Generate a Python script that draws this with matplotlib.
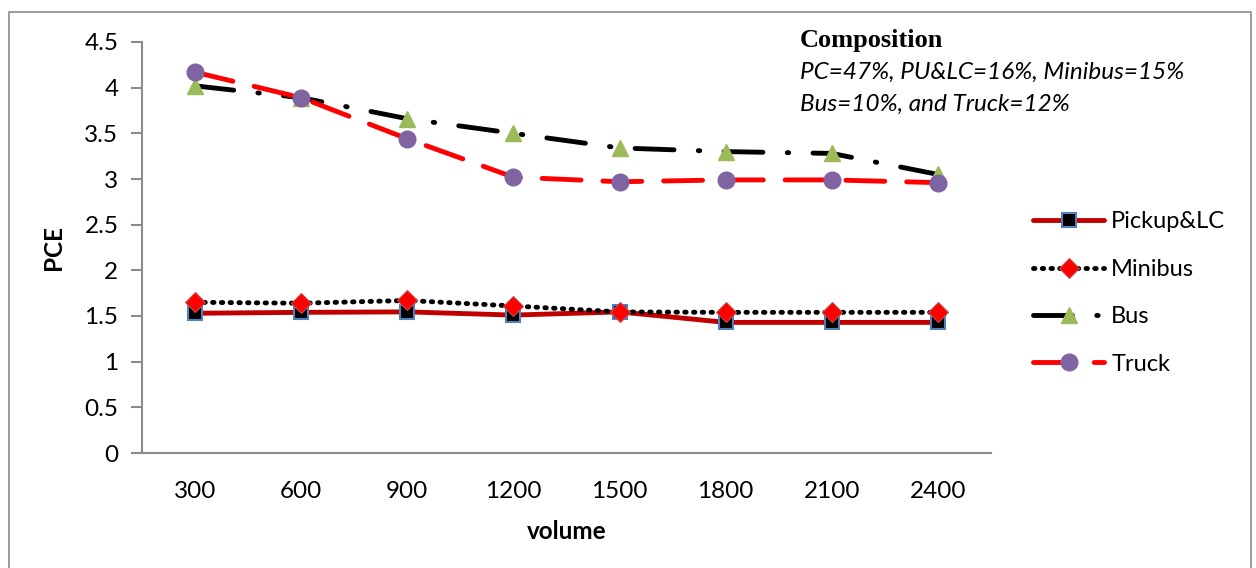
import numpy as np
import matplotlib
matplotlib.use('Agg')
import matplotlib.pyplot as plt
from matplotlib.patches import Rectangle

# PCE values per traffic volume
volume = ['300', '600', '900', '1200', '1500', '1800', '2100', '2400']
pickup_lc = [1.53, 1.54, 1.545, 1.51, 1.545, 1.43, 1.43, 1.43]
minibus = [1.65, 1.64, 1.67, 1.61, 1.545, 1.54, 1.54, 1.54]
bus = [4.02, 3.89, 3.66, 3.50, 3.34, 3.30, 3.28, 3.05]
truck = [4.17, 3.89, 3.44, 3.02, 2.97, 2.99, 2.99, 2.96]

plt.rcParams['font.family'] = ['Lato', 'DejaVu Sans']

fig = plt.figure(figsize=(12.56, 5.68), dpi=100, facecolor='white')
ax = fig.add_axes([142 / 1256, 1 - 453 / 568, (991 - 142) / 1256, (453 - 42) / 568])

# outer chart frame
fig.patches.append(Rectangle((9 / 1256, -0.05), (1251 - 9) / 1256, 1.05 - 12 / 568,
                             transform=fig.transFigure, fill=False,
                             edgecolor='#8c8c8c', linewidth=1.2))

x = np.arange(len(volume))

ax.plot(x, pickup_lc, color='#C00000', linewidth=3.5, solid_capstyle='round',
        marker='s', markersize=10, markerfacecolor='black',
        markeredgecolor='#4F81BD', markeredgewidth=1.5, label='Pickup&LC', zorder=3)
ax.plot(x, minibus, color='black', linewidth=3.5, linestyle=(0, (0.3, 1.5)),
        dash_capstyle='round', marker='D', markersize=10,
        markerfacecolor='#FF0000', markeredgecolor='#C0504D', markeredgewidth=0.8,
        label='Minibus', zorder=4)
ax.plot(x, bus, color='black', linewidth=3.5, linestyle=(0, (8, 5, 0.3, 5)),
        dash_capstyle='round', marker='^', markersize=12,
        markerfacecolor='#9BBB59', markeredgecolor='#9BBB59',
        label='Bus', zorder=3)
ax.plot(x, truck, color='#FF0000', linewidth=3.5, linestyle=(0, (8, 4.5)),
        dash_capstyle='round', marker='o', markersize=12,
        markerfacecolor='#8064A2', markeredgecolor='#8064A2',
        label='Truck', zorder=4)

ax.set_xlim(-0.5, len(volume) - 0.5)
ax.set_ylim(0, 4.5)
ax.set_yticks(np.arange(0, 4.51, 0.5))
ax.set_yticklabels(['0', '0.5', '1', '1.5', '2', '2.5', '3', '3.5', '4', '4.5'])
ax.set_xticks(x)
ax.set_xticklabels(volume)

for side in ['top', 'right']:
    ax.spines[side].set_visible(False)
for side in ['left', 'bottom']:
    ax.spines[side].set_color('#8c8c8c')
    ax.spines[side].set_linewidth(1.5)
ax.tick_params(axis='y', length=8, width=1.5, color='#8c8c8c', labelsize=17.5, pad=9)
ax.tick_params(axis='x', length=0, labelsize=17.5, pad=20)

ax.set_xlabel('volume', fontsize=17.5, fontweight='bold', labelpad=13)
ax.set_ylabel('PCE', fontsize=17.5, fontweight='bold', labelpad=14)

fig.text(800 / 1256, 1 - 40 / 568, 'Composition', fontsize=19, fontweight='bold',
         family='Liberation Serif', va='center', ha='left')
fig.text(800 / 1256, 1 - 72 / 568, 'PC=47%, PU&LC=16%, Minibus=15%', fontsize=17.5,
         style='italic', va='center', ha='left')
fig.text(800 / 1256, 1 - 104 / 568, 'Bus=10%, and Truck=12%', fontsize=17.5,
         style='italic', va='center', ha='left')

fig.legend(loc='center left', bbox_to_anchor=(1012 / 1256, 1 - 293 / 568),
           frameon=False, fontsize=17, numpoints=1, handlelength=3.0,
           labelspacing=1.12, handletextpad=0.3)

fig.savefig('out.png', dpi=100, facecolor='white')
